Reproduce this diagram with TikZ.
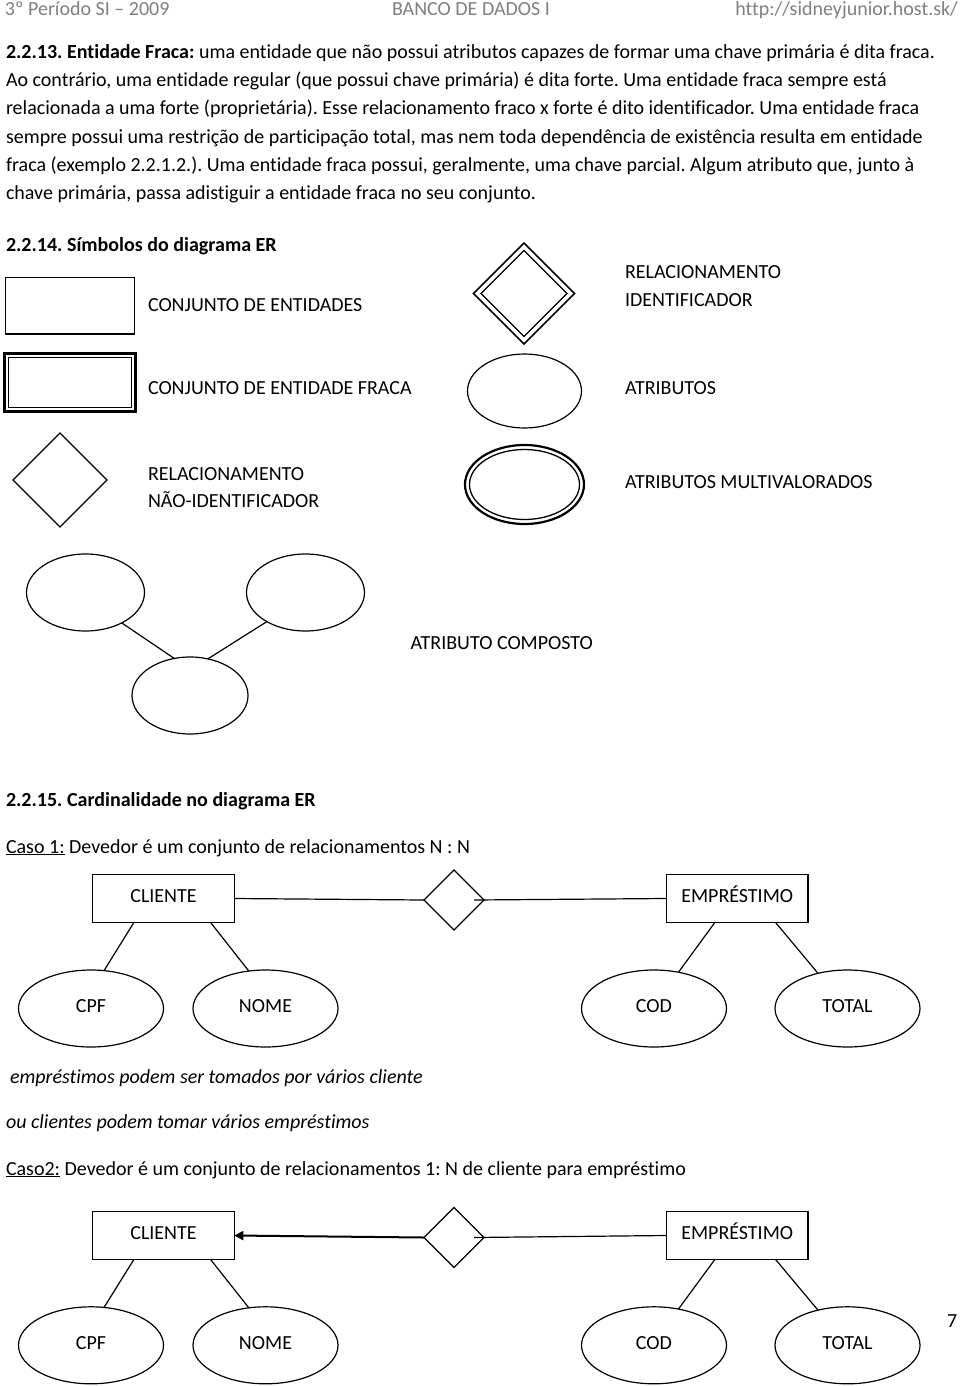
\documentclass[tikz,border=0pt]{standalone}
\usepackage{fontspec}
\setmainfont{Carlito}[Ligatures={TeX,NoCommon}]
\usetikzlibrary{shapes.geometric,arrows.meta,calc}
\frenchspacing
\begin{document}
\begin{tikzpicture}[x=1pt,y=-1pt,
  every node/.style={inner sep=0pt, outer sep=0pt},
  txt/.style={anchor=base west, font=\fontsize{20}{24}\selectfont},
  hdr/.style={txt, text=black!50},
  shp/.style={draw, line width=1.2pt},
  ent/.style={shp, rectangle, minimum width=141.6pt, minimum height=48pt, font=\fontsize{20}{24}\selectfont, text height=13pt, text depth=5pt},
  att/.style={shp, ellipse, minimum width=145pt, minimum height=77pt, font=\fontsize{20}{24}\selectfont, text height=13pt, text depth=5pt},
  rel/.style={shp, diamond, minimum width=60pt, minimum height=60pt},
  conn/.style={line width=1.2pt},
]
\fill[white] (0,0) rectangle (960,1386);
\useasboundingbox (0,0) rectangle (960,1386);

% header
\node[hdr] (h1) at (5,16) {3º Período SI – 2009};
\node[hdr] (h2) at (392,16) {BANCO DE DADOS I};
\node[hdr, anchor=base east] (h3) at (958,16) {http://sidneyjunior.host.sk/};

% paragraph
\node[txt] (p1) at (6,59) {\textbf{2.2.13. Entidade Fraca:} uma entidade que não possui atributos capazes de formar uma chave primária é dita fraca.};
\node[txt] (p2) at (6,87) {Ao contrário, uma entidade regular (que possui chave primária) é dita forte. Uma entidade fraca sempre está};
\node[txt] (p3) at (6,115) {relacionada a uma forte (proprietária). Esse relacionamento fraco x forte é dito identificador. Uma entidade fraca};
\node[txt] (p4) at (6,143) {sempre possui uma restrição de participação total, mas nem toda dependência de existência resulta em entidade};
\node[txt] (p5) at (6,171) {fraca (exemplo 2.2.1.2.). Uma entidade fraca possui, geralmente, uma chave parcial. Algum atributo que, junto à};
\node[txt] (p6) at (6,199) {chave primária, passa adistiguir a entidade fraca no seu conjunto.};

% symbols
\node[txt] (t14) at (6,251) {\textbf{2.2.14. Símbolos do diagrama ER}};

\node[shp, rectangle, minimum width=129pt, minimum height=56.3pt] (s1) at (70.2,305.9) {};
\node[txt] (l1) at (148,311.7) {CONJUNTO DE ENTIDADES};

\node[draw, line width=2.6pt, rectangle, minimum width=131.4pt, minimum height=58.3pt] (s2o) at (69.9,382.6) {};
\node[draw, line width=1.4pt, rectangle, minimum width=123.2pt, minimum height=50.1pt] (s2i) at (69.9,382.6) {};
\node[txt] (l2) at (148,394) {CONJUNTO DE ENTIDADE FRACA};

\node[shp, diamond, minimum width=94pt, minimum height=94pt] (s3) at (60,480) {};
\node[txt] (l3a) at (148,480) {RELACIONAMENTO};
\node[txt] (l3b) at (148,507) {NÃO-IDENTIFICADOR};

\node[draw, line width=1.5pt, diamond, minimum width=101pt, minimum height=101pt] (s4o) at (524,293.5) {};
\node[draw, line width=1.3pt, diamond, minimum width=86pt, minimum height=86pt] (s4i) at (524,293.5) {};
\node[txt] (l4a) at (625,278) {RELACIONAMENTO};
\node[txt] (l4b) at (625,306) {IDENTIFICADOR};

\node[shp, ellipse, minimum width=114pt, minimum height=74pt] (s5) at (524.5,391) {};
\node[txt] (l5) at (625,394) {ATRIBUTOS};

\node[draw, line width=2.2pt, ellipse, minimum width=119pt, minimum height=79pt] (s6o) at (524.5,484.5) {};
\node[draw, line width=1.3pt, ellipse, minimum width=110pt, minimum height=70pt] (s6i) at (524.5,484.5) {};
\node[txt] (l6) at (625,488) {ATRIBUTOS MULTIVALORADOS};

% composite attribute
\node[shp, ellipse, minimum width=118pt, minimum height=77pt] (e1) at (85.5,592.5) {};
\node[shp, ellipse, minimum width=118pt, minimum height=77pt] (e2) at (305.5,592.5) {};
\node[shp, ellipse, minimum width=116pt, minimum height=77pt] (e3) at (190,695.5) {};
\draw[conn] (e1.-40.5) -- (e3.113.8);
\draw[conn] (e2.217.5) -- (e3.64.9);
\node[txt] (l7) at (410.7,649) {ATRIBUTO COMPOSTO};

% cardinality
\node[txt] (t15) at (6,806) {\textbf{2.2.15. Cardinalidade no diagrama ER}};
\node[txt] (c1) at (6,853) {\underline{Caso 1:} Devedor é um conjunto de relacionamentos N : N};

\node[ent] (cli1) at (163.5,898.5) {CLIENTE};
\node[ent] (emp1) at (737.2,898.5) {EMPRÉSTIMO};
\node[rel] (d1) at (454,900) {};
\node[att] (cpf1) at (91,1008.5) {CPF};
\node[att] (nome1) at (265.5,1008.5) {NOME};
\node[att] (cod1) at (654,1008.5) {COD};
\node[att] (tot1) at (847.5,1008.5) {TOTAL};
\draw[conn] (cli1.east) -- (d1.west);
\draw[conn] ($(d1.east)+(-10,0)$) -- (emp1.west);
\draw[conn] (cli1.219) -- (cpf1.71.3);
\draw[conn] (cli1.-27.8) -- (nome1.114.4);
\draw[conn] (emp1.227.2) -- (cod1.56.9);
\draw[conn] (emp1.-32.4) -- (tot1.130.3);

\node[txt, font=\fontsize{20}{24}\selectfont\itshape] (i1) at (10,1083) {empréstimos podem ser tomados por vários cliente};
\node[txt, font=\fontsize{20}{24}\selectfont\itshape] (i2) at (6,1128) {ou clientes podem tomar vários empréstimos};
\node[txt] (c2) at (6,1175) {\underline{Caso2:} Devedor é um conjunto de relacionamentos 1: N de cliente para empréstimo};

\node[ent] (cli2) at (163.5,1235.5) {CLIENTE};
\node[ent] (emp2) at (737.2,1235.5) {EMPRÉSTIMO};
\node[rel] (d2) at (454,1237.5) {};
\node[att] (cpf2) at (91,1345.3) {CPF};
\node[att] (nome2) at (265.5,1345.3) {NOME};
\node[att] (cod2) at (654,1345.3) {COD};
\node[att] (tot2) at (847.5,1345.3) {TOTAL};
\draw[line width=2pt, -{Triangle[length=9pt,width=9pt]}] (d2.west) -- (cli2.east);
\draw[conn] ($(d2.east)+(-10,0)$) -- (emp2.west);
\draw[conn] (cli2.219) -- (cpf2.71.3);
\draw[conn] (cli2.-27.8) -- (nome2.114.4);
\draw[conn] (emp2.227.2) -- (cod2.56.9);
\draw[conn] (emp2.-32.4) -- (tot2.130.3);

\node[txt] (pg) at (947,1327) {7};
\end{tikzpicture}
\end{document}
